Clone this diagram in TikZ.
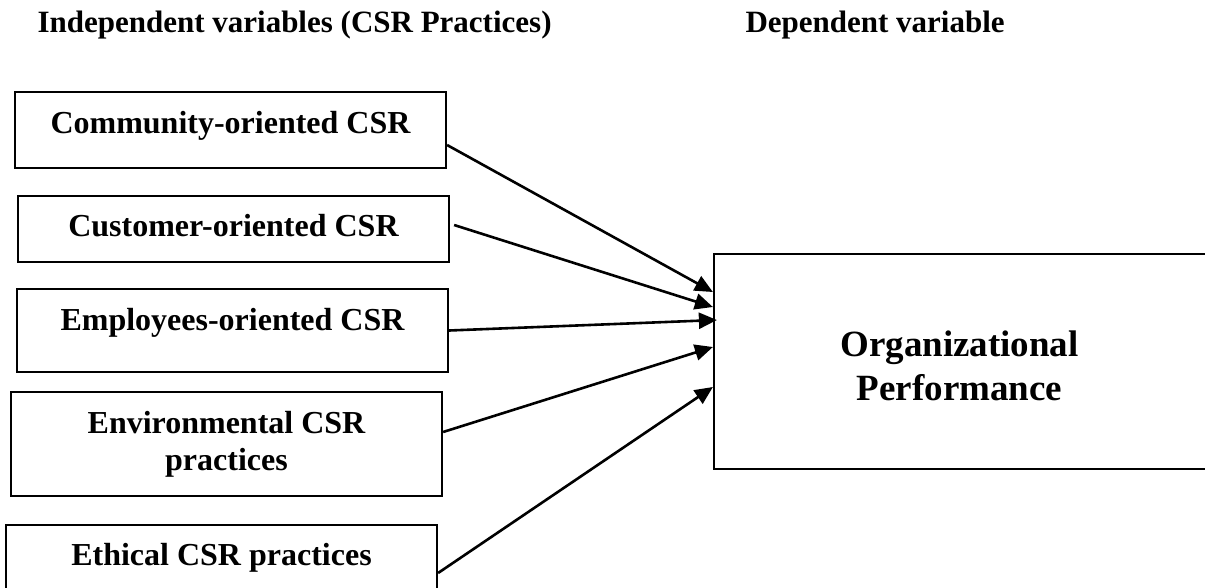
\documentclass[tikz,border=0pt]{standalone}
\usepackage{fontspec}
\setmainfont{Liberation Serif}
\usetikzlibrary{arrows.meta}

\tikzset{
  box/.style={draw, line width=2.2pt, minimum width=431pt, inner sep=0pt},
  txt/.style={font=\bfseries\fontsize{32}{37}\selectfont, align=center, anchor=base},
  head/.style={font=\bfseries\fontsize{31}{36}\selectfont, anchor=base west},
  link/.style={line width=2.6pt, -{Triangle[length=18pt,width=16pt]}}
}

\begin{document}
\begin{tikzpicture}[x=1pt,y=-1pt]
	\useasboundingbox (0,0) rectangle (1205,587);
	\clip (0,0) rectangle (1205,587);
	% headings
	\node[head] (indep) at (34,32) {Independent variables (CSR Practices)};
	\node[head] (dep) at (742,32) {Dependent variable};
	% csr practices
	\node[box, minimum height=76pt] (comm) at (230.5,130) {};
	\node[txt] (comm-t) at (230.5,133) {Community-oriented CSR};
	\node[box, minimum height=66pt] (cust) at (233.5,229) {};
	\node[txt] (cust-t) at (233.5,236) {Customer-oriented CSR};
	\node[box, minimum height=83pt] (empl) at (232.5,330.5) {};
	\node[txt] (empl-t) at (232.5,330) {Employees-oriented CSR};
	\node[box, minimum height=104pt] (envi) at (226.5,444) {};
	\node[txt, anchor=center] (envi-t) at (226.5,444) {Environmental CSR\\practices};
	\node[box, minimum height=85pt] (ethi) at (221.5,567.5) {};
	\node[txt] (ethi-t) at (221.5,565) {Ethical CSR practices};
	% performance
	\node[box, minimum width=493pt, minimum height=215pt] (perf) at (960.5,361.5) {};
	\node[txt, anchor=center, font=\bfseries\fontsize{37}{44}\selectfont] (perf-t) at (959.5,366) {Organizational\\Performance};
	% links
	\draw[link] ([yshift=-15pt]comm.east) -- ([yshift=69.5pt]perf.west);
	\draw[link] ([xshift=4pt,yshift=4pt]cust.east) -- ([yshift=54.5pt]perf.west);
	\draw[link] (empl.east) -- ([xshift=4pt,yshift=41.5pt]perf.west);
	\draw[link] ([yshift=12pt]envi.east) -- ([yshift=14.5pt]perf.west);
	\draw[link] ([yshift=-5.5pt]ethi.east) -- ([yshift=-25.5pt]perf.west);
\end{tikzpicture}
\end{document}
